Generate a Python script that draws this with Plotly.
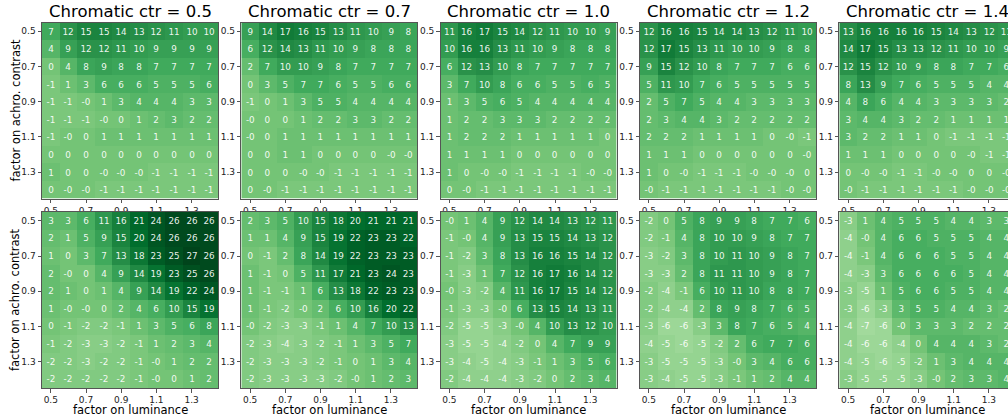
import math
import plotly.graph_objects as go

factors = [0.5, 0.6, 0.7, 0.8, 0.9, 1.0, 1.1, 1.2, 1.3, 1.4]
tick_labels = ["0.5", "0.7", "0.9", "1.1", "1.3"]
chromatic_ctr = ["0.5", "0.7", "1.0", "1.2", "1.4"]

# top row (rows = factor on achro. contrast, cols = factor on luminance)
top_05 = [
    [7, 12, 15, 15, 14, 13, 12, 11, 10, 10],
    [4, 9, 12, 12, 11, 10, 9, 9, 9, 9],
    [0, 4, 8, 9, 8, 8, 7, 7, 7, 7],
    [-1, 1, 3, 6, 6, 6, 5, 5, 5, 6],
    [-1, -1, -0.0, 1, 3, 4, 4, 4, 3, 3],
    [-1, -1, -1, -0.0, 0, 1, 2, 3, 2, 2],
    [-1, -0.0, 0, 1, 1, 1, 1, 1, 1, 1],
    [0, 0, 0, 0, 0, 0, 0, 0, 0, 0],
    [1, 0, 0, -0.0, -0.0, -0.0, -1, -1, -1, -1],
    [0, -0.0, -0.0, -1, -1, -1, -1, -1, -1, -1],
]
top_07 = [
    [9, 14, 17, 16, 15, 13, 11, 10, 9, 8],
    [6, 12, 14, 13, 11, 10, 9, 8, 8, 8],
    [2, 7, 10, 10, 9, 8, 7, 7, 7, 7],
    [0, 3, 5, 7, 7, 6, 5, 5, 6, 6],
    [-1, 0, 1, 3, 5, 5, 4, 4, 4, 4],
    [-0.0, 0, 0, 1, 2, 2, 3, 3, 2, 2],
    [-0.0, 0, 1, 1, 1, 1, 1, 1, 1, 1],
    [0, 0, 1, 1, 0, 0, 0, 0, -0.0, -0.0],
    [0, 0, 0, -0.0, -0.0, -1, -1, -1, -1, -1],
    [0, -0.0, -1, -1, -1, -1, -1, -1, -1, -1],
]
top_10 = [
    [11, 16, 17, 15, 14, 12, 11, 10, 10, 9],
    [10, 16, 16, 13, 11, 10, 9, 8, 8, 8],
    [6, 12, 13, 10, 8, 7, 7, 7, 7, 7],
    [3, 7, 10, 8, 6, 6, 5, 5, 6, 5],
    [1, 3, 5, 6, 5, 4, 4, 4, 4, 4],
    [1, 2, 2, 3, 3, 3, 2, 2, 2, 2],
    [1, 2, 2, 2, 1, 1, 1, 1, 1, 0],
    [1, 1, 1, 1, 0, 0, 0, 0, 0, 0],
    [1, 0, -0.0, -0.0, -1, -1, -1, -1, -0.0, -0.0],
    [0, -0.0, -1, -1, -1, -1, -1, -1, -1, -1],
]
top_12 = [
    [12, 16, 16, 15, 14, 14, 13, 12, 11, 10],
    [12, 17, 15, 13, 11, 10, 10, 9, 8, 8],
    [9, 15, 12, 10, 8, 7, 7, 7, 6, 6],
    [5, 11, 10, 7, 6, 5, 5, 5, 5, 5],
    [2, 5, 7, 5, 4, 4, 3, 3, 3, 3],
    [2, 3, 4, 4, 3, 2, 2, 2, 2, 2],
    [2, 2, 2, 1, 1, 1, 1, 0, -0.0, -1],
    [1, 1, 1, 0, 0, 0, 0, 0, 0, -0.0],
    [1, 0, -0.0, -1, -1, -1, -0.0, -0.0, -0.0, 0],
    [-0.0, -1, -1, -1, -1, -1, -1, -1, -0.0, -0.0],
]
top_14 = [
    [13, 16, 16, 16, 16, 15, 14, 13, 12, 11],
    [14, 17, 15, 13, 13, 12, 11, 10, 10, 9],
    [12, 15, 12, 10, 9, 8, 8, 7, 7, 6],
    [8, 13, 9, 7, 6, 5, 5, 5, 4, 4],
    [4, 8, 6, 4, 4, 3, 3, 3, 3, 2],
    [3, 4, 4, 3, 2, 2, 1, 1, 1, 1],
    [3, 2, 2, 1, 1, 0, -1, -1, -1, -1],
    [1, 1, 1, 0, 0, 0, 0, -0.0, -1, -1],
    [0, -0.0, -0.0, -1, -1, -0.0, -0.0, 0, 0, -0.0],
    [-0.0, -1, -1, -1, -1, -1, -1, -0.0, -0.0, -0.0],
]

# bottom row
bot_05 = [
    [3, 3, 6, 11, 16, 21, 24, 26, 26, 26],
    [2, 1, 5, 9, 15, 20, 24, 26, 26, 26],
    [1, 0, 3, 7, 13, 18, 23, 25, 27, 26],
    [2, -0.0, 0, 4, 9, 14, 19, 23, 25, 26],
    [2, 1, 0, 1, 4, 9, 14, 19, 22, 24],
    [1, -0.0, -0.0, 0, 2, 4, 6, 10, 15, 19],
    [0, -1, -2, -2, -1, 1, 3, 5, 6, 8],
    [-1, -2, -3, -3, -2, -1, 1, 2, 3, 4],
    [-2, -2, -3, -2, -2, -1, -0.0, 1, 2, 2],
    [-2, -2, -2, -2, -2, -1, -0.0, 0, 1, 2],
]
bot_07 = [
    [2, 3, 5, 10, 15, 18, 20, 21, 21, 21],
    [1, 1, 4, 9, 15, 19, 22, 23, 23, 22],
    [0, -1, 2, 8, 14, 19, 22, 23, 23, 23],
    [1, -1, 0, 5, 11, 17, 21, 23, 24, 23],
    [1, -1, -1, 1, 6, 13, 18, 22, 23, 23],
    [1, -1, -2, -0.0, 2, 6, 10, 16, 20, 22],
    [-0.0, -2, -3, -3, -1, 1, 4, 7, 10, 13],
    [-2, -3, -4, -3, -2, -1, 1, 3, 5, 7],
    [-2, -3, -3, -3, -2, -1, 0, 1, 3, 4],
    [-2, -3, -3, -3, -3, -2, -0.0, 1, 2, 3],
]
bot_10 = [
    [-0.0, 1, 4, 9, 12, 14, 14, 13, 12, 11],
    [-1, -0.0, 4, 9, 13, 15, 15, 14, 13, 12],
    [-1, -2, 3, 8, 13, 16, 16, 15, 14, 12],
    [-1, -3, 1, 7, 12, 16, 17, 16, 14, 12],
    [-0.0, -3, -2, 4, 11, 16, 17, 15, 14, 12],
    [-1, -3, -3, -0.0, 6, 13, 15, 14, 13, 11],
    [-2, -5, -5, -3, -0.0, 4, 10, 13, 12, 10],
    [-3, -5, -5, -4, -2, 0, 4, 7, 9, 9],
    [-3, -4, -5, -4, -3, -1, 1, 3, 5, 6],
    [-2, -4, -4, -4, -3, -2, 0, 2, 3, 4],
]
bot_12 = [
    [-2, 0, 5, 8, 9, 9, 8, 7, 7, 6],
    [-2, -1, 4, 8, 10, 10, 9, 8, 7, 7],
    [-3, -2, 3, 8, 10, 11, 10, 9, 8, 7],
    [-3, -3, 2, 8, 11, 11, 10, 9, 8, 7],
    [-2, -4, -1, 6, 10, 11, 10, 8, 8, 7],
    [-2, -4, -4, 2, 8, 9, 8, 7, 6, 5],
    [-3, -6, -6, -3, 3, 8, 7, 6, 5, 4],
    [-4, -5, -6, -5, -2, 2, 6, 7, 7, 6],
    [-3, -5, -5, -5, -3, -0.0, 3, 4, 6, 6],
    [-3, -4, -5, -5, -3, -1, 1, 2, 4, 4],
]
bot_14 = [
    [-3, 1, 4, 5, 5, 5, 4, 4, 3, 3],
    [-4, -0.0, 4, 6, 6, 5, 5, 5, 4, 4],
    [-4, -1, 4, 6, 6, 6, 5, 5, 4, 4],
    [-4, -3, 3, 6, 6, 6, 6, 5, 4, 4],
    [-3, -5, 1, 5, 6, 6, 5, 5, 4, 4],
    [-3, -6, -3, 3, 5, 5, 4, 4, 3, 2],
    [-4, -7, -6, -0.0, 3, 3, 3, 2, 2, 2],
    [-4, -6, -6, -4, 0, 4, 4, 4, 3, 2],
    [-4, -5, -6, -5, -2, 1, 3, 4, 4, 4],
    [-3, -5, -5, -5, -3, -0.0, 2, 3, 3, 4],
]

top_row = [top_05, top_07, top_10, top_12, top_14]
bottom_row = [bot_05, bot_07, bot_10, bot_12, bot_14]

greens = [
    [0.0, "#f7fcf5"], [0.125, "#e5f5e0"], [0.25, "#c7e9c0"], [0.375, "#a1d99b"],
    [0.5, "#74c476"], [0.625, "#41ab5d"], [0.75, "#238b45"], [0.875, "#006d2c"],
    [1.0, "#00441b"],
]
ZMAX = 27

W, H = 1008, 417
lefts = [42, 241.3, 440.6, 640, 839.3]
pw = 176.0
cell = pw / 10
row_tops = [22.5, 212.0]
ph = 176.0

FONT = "DejaVu Sans"


def fmt(v):
    if v == 0 and math.copysign(1, v) < 0:
        return "-0"
    return str(int(round(v)))


fig = go.Figure()
idx = list(range(10))
tickvals = [0, 2, 4, 6, 8]

n = 0
for r, row in enumerate([top_row, bottom_row]):
    for c, mat in enumerate(row):
        n += 1
        xa = "x" if n == 1 else f"x{n}"
        ya = "y" if n == 1 else f"y{n}"
        fig.add_trace(go.Heatmap(
            z=mat, x=idx, y=idx,
            text=[[fmt(v) for v in rr] for rr in mat],
            texttemplate="%{text}",
            textfont=dict(family=FONT, size=8.8, color="rgba(255,255,255,0.92)"),
            colorscale=greens, zmin=-ZMAX, zmax=ZMAX, showscale=False,
            xaxis=xa, yaxis=ya, hoverinfo="skip",
        ))
        x0 = lefts[c]
        x1 = min(x0 + pw, W)
        xr_end = -0.5 + (x1 - x0) / cell
        top = row_tops[r]
        bot = top + ph
        axis_common = dict(
            showgrid=False, zeroline=False, showline=True, linecolor="#555",
            linewidth=1, mirror=True, ticks="outside", ticklen=3.5,
            tickcolor="#555", tickfont=dict(family=FONT, size=9, color="#222"),
            tickvals=tickvals, ticktext=tick_labels,
        )
        fig.layout[f"xaxis{'' if n == 1 else n}"] = dict(
            axis_common, domain=[x0 / W, x1 / W], range=[-0.5, xr_end],
            anchor=ya,
        )
        fig.layout[f"yaxis{'' if n == 1 else n}"] = dict(
            axis_common, domain=[1 - bot / H, 1 - top / H], range=[9.5, -0.5],
            anchor=xa,
        )

annotations = []
for c, ctr in enumerate(chromatic_ctr):
    cx = (lefts[c] + pw / 2) / W
    annotations.append(dict(
        text=f"Chromatic ctr = {ctr}", x=cx, y=1 - 11.5 / H, xref="paper",
        yref="paper", xanchor="center", yanchor="middle", showarrow=False,
        font=dict(family=FONT, size=16.5, color="#000"),
    ))
    annotations.append(dict(
        text="factor on luminance", x=cx, y=1 - 409.5 / H, xref="paper",
        yref="paper", xanchor="center", yanchor="middle", showarrow=False,
        font=dict(family=FONT, size=11.5, color="#000"),
    ))
for r in range(2):
    cy = 1 - (row_tops[r] + ph / 2) / H
    annotations.append(dict(
        text="factor on achro. contrast", x=15 / W, y=cy, xref="paper",
        yref="paper", xanchor="center", yanchor="middle", textangle=-90,
        showarrow=False, font=dict(family=FONT, size=11.5, color="#000"),
    ))

fig.update_layout(
    width=W, height=H, margin=dict(l=0, r=0, t=0, b=0),
    paper_bgcolor="white", plot_bgcolor="white",
    annotations=annotations, showlegend=False,
    font=dict(family=FONT),
)

fig.write_html(
    "out.html",
    config={"displayModeBar": False},
    post_script="document.body.style.margin='0px';document.body.style.overflow='hidden';",
)
